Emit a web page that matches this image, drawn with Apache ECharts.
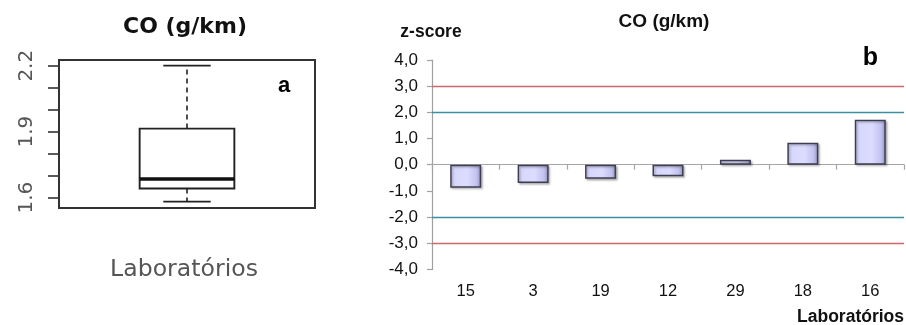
<!DOCTYPE html>
<html>
<head>
<meta charset="utf-8">
<script src="https://cdn.jsdelivr.net/npm/echarts@6/dist/echarts.min.js"></script>
<style>
  html, body { margin: 0; padding: 0; background: #fff; }
  #chart { width: 906px; height: 325px; }
</style>
</head>
<body>
<div id="chart"></div>
<script>
// Panel a: box plot of CO results (g/km)
const boxCategory = ['Laboratórios'];
// [category index, lower whisker, Q1, median, Q3, upper whisker]
const boxStats = [[0, 1.582, 1.642, 1.685, 1.914, 2.2]];
const boxTickValues = [1.6, 1.7, 1.8, 1.9, 2.0, 2.1, 2.2];
const boxLabelValues = [1.6, 1.9, 2.2];

// Panel b: z-scores per laboratory
const labs = ['15', '3', '19', '12', '29', '18', '16'];
const zScores = [-0.88, -0.70, -0.54, -0.44, 0.19, 0.84, 1.72];
const warningLimits = [2, -2];
const actionLimits = [3, -3];

const chart = echarts.init(document.getElementById('chart'), null, { renderer: 'canvas' });

const rFont = 'DejaVu Sans';
const xlFont = 'Liberation Sans';
const fmtComma = v => v.toFixed(1).replace('.', ',');

const option = {
  backgroundColor: '#ffffff',
  animation: false,
  grid: [
    { left: 59, top: 60, width: 256, height: 148, show: true, borderColor: '#333', borderWidth: 2, backgroundColor: 'transparent' },
    { left: 432, top: 60, width: 472, height: 209.4, show: false }
  ],
  xAxis: [
    { gridIndex: 0, type: 'category', data: boxCategory, show: false },
    // category labels along the bottom of panel b
    { gridIndex: 1, type: 'category', data: labs, position: 'bottom',
      axisLine: { show: false, onZero: false }, axisTick: { show: false },
      axisLabel: { fontFamily: xlFont, fontSize: 16.5, color: '#111', margin: 14, lineHeight: 17 } },
    // zero line with tick marks between categories
    { gridIndex: 1, type: 'category', data: labs, position: 'bottom',
      axisLine: { show: true, onZero: true, lineStyle: { color: '#a6a6a6', width: 1.2 } },
      axisTick: { show: true, inside: false, length: 5, lineStyle: { color: '#a6a6a6', width: 1.2 } },
      axisLabel: { show: false } }
  ],
  yAxis: [
    { gridIndex: 0, type: 'value', min: 1.553, max: 2.226,
      axisLine: { show: false }, splitLine: { show: false },
      axisTick: { show: true, inside: false, length: 11, customValues: boxTickValues, lineStyle: { color: '#333', width: 1.6 } },
      axisLabel: { show: true, rotate: 90, customValues: boxLabelValues, formatter: v => v.toFixed(1),
        fontFamily: rFont, fontSize: 20, color: '#555', margin: 22, lineHeight: 20 } },
    { gridIndex: 1, type: 'value', min: -4, max: 4, interval: 1,
      axisLine: { show: true, lineStyle: { color: '#a0a0a0', width: 1.2 } },
      axisTick: { show: true, inside: false, length: 5, lineStyle: { color: '#a0a0a0', width: 1.2 } },
      splitLine: { show: false },
      axisLabel: { formatter: fmtComma, fontFamily: xlFont, fontSize: 17, color: '#111', margin: 14 } }
  ],
  series: [
    {
      type: 'custom',
      xAxisIndex: 0, yAxisIndex: 0,
      data: boxStats,
      encode: { x: 0, y: [1, 2, 3, 4, 5] },
      renderItem: function (params, api) {
        const c = api.value(0);
        const lo = api.coord([c, api.value(1)]);
        const q1 = api.coord([c, api.value(2)]);
        const med = api.coord([c, api.value(3)]);
        const q3 = api.coord([c, api.value(4)]);
        const hi = api.coord([c, api.value(5)]);
        const band = api.size([1, 0])[0];
        const bw = band * 0.37, cw = band * 0.185;
        const cx = lo[0];
        const ink = '#222';
        const dashed = { stroke: ink, lineWidth: 1.6, lineDash: [5, 4] };
        const solid = { stroke: ink, lineWidth: 1.7 };
        return {
          type: 'group',
          children: [
            { type: 'line', shape: { x1: cx, y1: q3[1], x2: cx, y2: hi[1] }, style: dashed },
            { type: 'line', shape: { x1: cx, y1: q1[1], x2: cx, y2: lo[1] }, style: dashed },
            { type: 'line', shape: { x1: cx - cw / 2, y1: hi[1], x2: cx + cw / 2, y2: hi[1] }, style: solid },
            { type: 'line', shape: { x1: cx - cw / 2, y1: lo[1], x2: cx + cw / 2, y2: lo[1] }, style: solid },
            { type: 'rect', shape: { x: cx - bw / 2, y: q3[1], width: bw, height: q1[1] - q3[1] },
              style: { fill: '#fff', stroke: ink, lineWidth: 1.9 } },
            { type: 'line', shape: { x1: cx - bw / 2, y1: med[1], x2: cx + bw / 2, y2: med[1] },
              style: { stroke: '#111', lineWidth: 3.6 } }
          ]
        };
      }
    },
    {
      type: 'bar',
      xAxisIndex: 2, yAxisIndex: 1,
      data: zScores,
      barWidth: '46%',
      itemStyle: {
        color: new echarts.graphic.LinearGradient(0, 0, 1, 0, [
          { offset: 0, color: '#d6d6fb' },
          { offset: 0.55, color: '#dcdcff' },
          { offset: 0.85, color: '#c2c2ef' },
          { offset: 1, color: '#8e8eb8' }
        ]),
        borderColor: '#3e3e52',
        borderWidth: 1.5,
        shadowColor: 'rgba(0,0,0,0.25)',
        shadowBlur: 2,
        shadowOffsetX: 1.5,
        shadowOffsetY: 1.5
      },
      markLine: {
        silent: true,
        symbol: 'none',
        label: { show: false },
        data: [
          ...actionLimits.map(v => ({ yAxis: v, lineStyle: { color: '#c96a6a', width: 1.4, type: 'solid' } })),
          ...warningLimits.map(v => ({ yAxis: v, lineStyle: { color: '#3b8fa0', width: 1.4, type: 'solid' } }))
        ]
      }
    }
  ],
  graphic: [
    { type: 'text', x: 185, y: 27.4, style: { text: 'CO (g/km)', font: 'bold 22px "DejaVu Sans"', fill: '#111', textAlign: 'center', textVerticalAlign: 'middle' } },
    { type: 'text', x: 184, y: 269.8, style: { text: 'Laboratórios', font: '23.6px "DejaVu Sans"', fill: '#555', textAlign: 'center', textVerticalAlign: 'middle' } },
    { type: 'text', x: 284, y: 86.4, style: { text: 'a', font: 'bold 22px "Liberation Sans"', fill: '#000', textAlign: 'center', textVerticalAlign: 'middle' } },
    { type: 'text', x: 664, y: 21.4, style: { text: 'CO (g/km)', font: 'bold 19px "Liberation Sans"', fill: '#111', textAlign: 'center', textVerticalAlign: 'middle' } },
    { type: 'text', x: 431, y: 32, style: { text: 'z-score', font: 'bold 17.5px "Liberation Sans"', fill: '#111', textAlign: 'center', textVerticalAlign: 'middle' } },
    { type: 'text', x: 870.5, y: 58.3, style: { text: 'b', font: 'bold 25px "Liberation Sans"', fill: '#000', textAlign: 'center', textVerticalAlign: 'middle' } },
    { type: 'text', x: 904, y: 317, style: { text: 'Laboratórios', font: 'bold 17.5px "Liberation Sans"', fill: '#111', textAlign: 'right', textVerticalAlign: 'middle' } }
  ]
};

chart.setOption(option);
</script>
</body>
</html>
